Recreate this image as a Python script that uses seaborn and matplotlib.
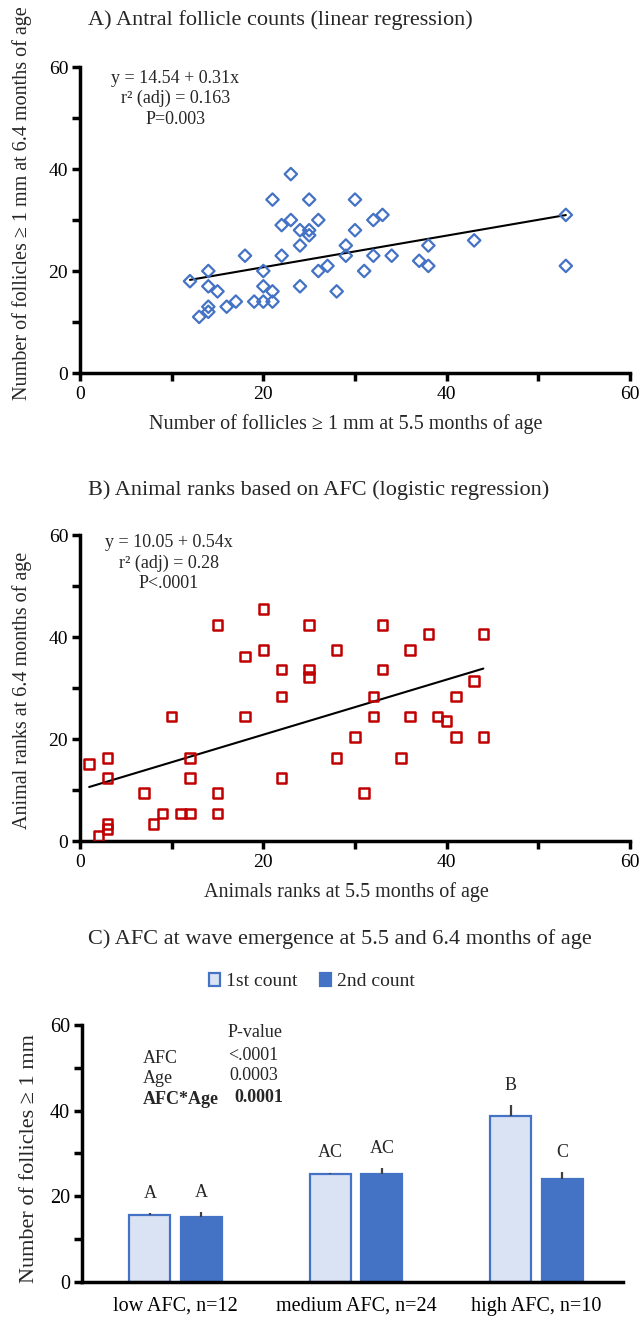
import numpy as np
import pandas as pd
import matplotlib
matplotlib.use("Agg")
import matplotlib.pyplot as plt
import seaborn as sns

# ---------------- data ----------------
# Panel A: follicle counts
afc_55 = [12, 14, 14, 15, 14, 14, 13, 16, 17, 18, 19, 20, 21, 20, 21, 20, 21, 22, 23, 23,
          22, 24, 24, 24, 25, 25, 25, 26, 26, 27, 28, 30, 30, 29, 29, 31, 32, 33, 32, 34,
          37, 38, 38, 43, 53, 53]
afc_64 = [18, 20, 17, 16, 13, 12, 11, 13, 14, 23, 14, 14, 14, 17, 16, 20, 34, 29, 30, 39,
          23, 28, 25, 17, 34, 28, 27, 30, 20, 21, 16, 34, 28, 25, 23, 20, 30, 31, 23, 23,
          22, 25, 21, 26, 31, 21]
a_intercept, a_slope = 14.54, 0.31
a_stats = ["y = 14.54 + 0.31x", "r\u00b2 (adj) = 0.163", "P=0.003"]

# Panel B: animal ranks
rank_55 = [1, 2, 3, 3, 3, 3, 7, 8, 9, 10, 11, 12, 12, 12, 15, 15, 15, 18, 18, 20,
           20, 22, 22, 22, 25, 25, 25, 28, 28, 30, 31, 32, 32, 33, 33, 35, 36, 36, 38, 39,
           40, 41, 41, 43, 44, 44]
rank_64 = [15.1, 1.0, 16.3, 12.4, 3.3, 2.3, 9.4, 3.3, 5.4, 24.4, 5.4, 5.4, 16.3, 12.4, 42.4, 9.4,
           5.4, 36.2, 24.4, 45.5, 37.5, 33.6, 28.3, 12.4, 42.4, 33.6, 32.2, 37.5, 16.3, 20.4,
           9.4, 28.3, 24.4, 42.4, 33.6, 16.3, 37.5, 24.4, 40.6, 24.4, 23.5, 28.3, 20.4, 31.4,
           40.6, 20.4]
b_intercept, b_slope = 10.05, 0.54
b_stats = ["y = 10.05 + 0.54x", "r\u00b2 (adj) = 0.28", "P<.0001"]

# Panel C: bars
groups = ["low AFC, n=12", "medium AFC, n=24", "high AFC, n=10"]
counts = ["1st count", "2nd count"]
first_mean = [15.6, 25.2, 38.7]
second_mean = [15.2, 25.2, 24.0]
first_err = [0.4, 0.3, 2.6]
second_err = [1.0, 1.4, 1.6]
first_letters = ["A", "AC", "B"]
second_letters = ["A", "AC", "C"]
stat_terms = ["AFC", "Age", "AFC*Age"]
stat_pvals = ["<.0001", "0.0003", "0.0001"]

# ---------------- style ----------------
sns.set_theme(style="ticks")
plt.rcParams["font.family"] = ["Liberation Serif", "DejaVu Serif"]
plt.rcParams["axes.linewidth"] = 2.5

BLUE = "#4472c4"
LIGHT = "#dae3f3"
RED = "#c00000"

W, H = 641, 1320
fig = plt.figure(figsize=(W / 100, H / 100), dpi=100)


def ax_rect(x0, x1, ytop, ybot):
    return [x0 / W, 1 - ybot / H, (x1 - x0) / W, (ybot - ytop) / H]


def style_scatter_axes(ax):
    sns.despine(ax=ax)
    ax.set_xlim(0, 60)
    ax.set_ylim(0, 60)
    ticks = list(range(0, 61, 10))
    labels = [str(t) if t % 20 == 0 else "" for t in ticks]
    ax.set_xticks(ticks, labels)
    ax.set_yticks(ticks, labels)
    ax.tick_params(axis="both", direction="out", length=5.5, width=2.5,
                   labelsize=14, color="black", labelcolor="black")
    ax.tick_params(axis="x", pad=4)
    ax.tick_params(axis="y", pad=3)
    for s in ["left", "bottom"]:
        ax.spines[s].set_color("black")
        ax.spines[s].set_linewidth(2.5)


# ---------------- Panel A ----------------
axA = fig.add_axes(ax_rect(80, 630, 67, 373))
sns.scatterplot(x=afc_55, y=afc_64, ax=axA, marker="D", s=40,
                facecolor="none", edgecolor=BLUE, linewidth=1.6, zorder=3)
xa = np.array([min(afc_55), max(afc_55)])
sns.lineplot(x=xa, y=a_intercept + a_slope * xa, ax=axA, color="black", linewidth=1.5)
style_scatter_axes(axA)
axA.set_xlabel("Number of follicles \u2265 1 mm at 5.5 months of age", fontsize=14.5)
axA.set_ylabel("Number of follicles \u2265 1 mm at 6.4 months of age", fontsize=14.5)
axA.xaxis.set_label_coords(0.484, -0.135)
axA.yaxis.set_label_coords(-0.088, 0.556)
for txt, yv in zip(a_stats, [57.8, 53.8, 49.7]):
    axA.text(10.4, yv, txt, ha="center", va="center", fontsize=13)
fig.text(88 / W, 1 - 20 / H, "A) Antral follicle counts (linear regression)",
         ha="left", va="center", fontsize=16)

# ---------------- Panel B ----------------
axB = fig.add_axes(ax_rect(80, 630, 535, 841))
sns.scatterplot(x=rank_55, y=rank_64, ax=axB, marker="s", s=48,
                facecolor="none", edgecolor=RED, linewidth=1.8, zorder=3)
xb = np.array([min(rank_55), max(rank_55)])
sns.lineplot(x=xb, y=b_intercept + b_slope * xb, ax=axB, color="black", linewidth=1.5)
style_scatter_axes(axB)
axB.set_xlabel("Animals ranks at 5.5 months of age", fontsize=14.5)
axB.set_ylabel("Animal ranks at 6.4 months of age", fontsize=14.5)
axB.xaxis.set_label_coords(0.484, -0.135)
axB.yaxis.set_label_coords(-0.088, 0.493)
for txt, yv in zip(b_stats, [58.6, 54.5, 50.4]):
    axB.text(9.7, yv, txt, ha="center", va="center", fontsize=13)
fig.text(88 / W, 1 - 490 / H, "B) Animal ranks based on AFC (logistic regression)",
         ha="left", va="center", fontsize=16)

# ---------------- Panel C ----------------
axC = fig.add_axes(ax_rect(81.7, 623.3, 1025, 1281.7))
df = pd.DataFrame({
    "group": groups * 2,
    "count": [counts[0]] * 3 + [counts[1]] * 3,
    "value": first_mean + second_mean,
})
sns.barplot(data=df, x="group", y="value", hue="count", order=groups, hue_order=counts,
            palette={counts[0]: LIGHT, counts[1]: BLUE}, saturation=1,
            width=0.57, gap=0.2, errorbar=None, edgecolor=BLUE, linewidth=1.6, ax=axC)
handles, labels = axC.get_legend_handles_labels()
axC.get_legend().remove()

bars = sorted([p for p in axC.patches if p.get_height() > 0], key=lambda p: p.get_x())
errs = [e for pair in zip(first_err, second_err) for e in pair]
letters = [l for pair in zip(first_letters, second_letters) for l in pair]
for p, e, lt in zip(bars, errs, letters):
    xc = p.get_x() + p.get_width() / 2
    top = p.get_height()
    axC.vlines(xc, top, top + e, color="#404040", linewidth=1.6, zorder=1)
    axC.text(xc, top + e + 4.6, lt, ha="center", va="center", fontsize=13)

sns.despine(ax=axC)
axC.set_xlim(-0.52, 2.48)
axC.set_ylim(0, 60)
yt = list(range(0, 61, 10))
axC.set_yticks(yt, [str(t) if t % 20 == 0 else "" for t in yt])
axC.tick_params(axis="y", direction="out", length=5.5, width=2.5, labelsize=14.5,
                color="black", labelcolor="black", pad=3)
axC.tick_params(axis="x", length=0, labelsize=14.5, labelcolor="black", pad=11)
for s in ["left", "bottom"]:
    axC.spines[s].set_color("black")
    axC.spines[s].set_linewidth(2.5)
axC.set_xlabel("")
axC.set_ylabel("Number of follicles \u2265 1 mm", fontsize=16)
axC.yaxis.set_label_coords(-0.079, 0.48)

axC.text(0.286, 58.3, "P-value", ha="left", va="center", fontsize=13)
for term, pv, yv, xp in zip(stat_terms, stat_pvals, [52.2, 47.5, 42.5], [0.292, 0.299, 0.323]):
    bold = "bold" if term == "AFC*Age" else "normal"
    axC.text(-0.184, yv, term, ha="left", va="center", fontsize=13, fontweight=bold)
    axC.text(xp, yv + 0.6, pv, ha="left", va="center", fontsize=13, fontweight=bold)

fig.legend(handles, labels, loc="center", bbox_to_anchor=(312 / W, 1 - 981.7 / H),
           ncol=2, frameon=False, fontsize=14, handlelength=0.55, handleheight=0.6,
           handletextpad=0.3, columnspacing=1.2)
fig.text(88 / W, 1 - 939 / H, "C) AFC at wave emergence at 5.5 and 6.4 months of age",
         ha="left", va="center", fontsize=16)

fig.savefig("out.png", dpi=100)
